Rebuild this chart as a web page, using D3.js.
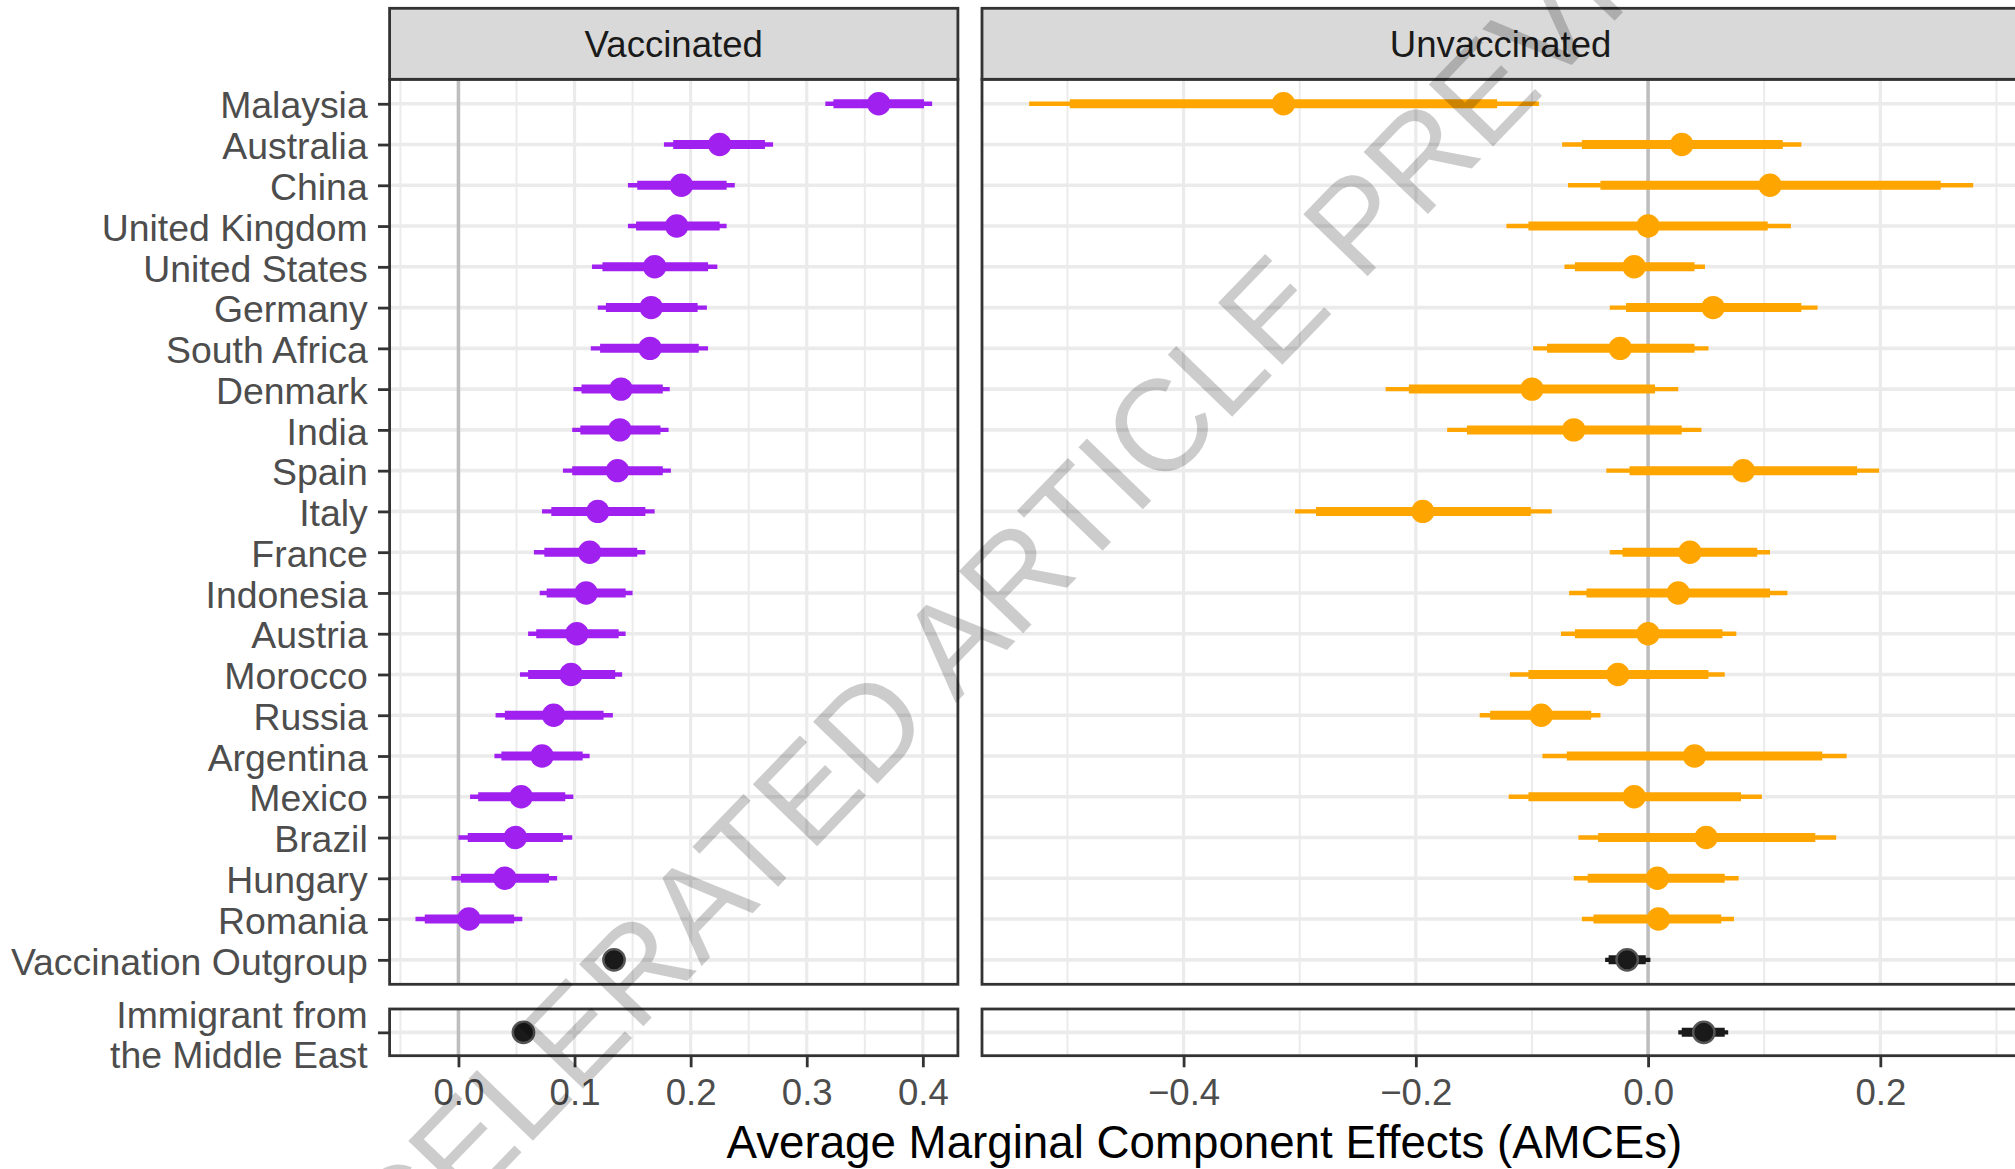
<!DOCTYPE html>
<html>
<head>
<meta charset="utf-8">
<script src="https://cdn.jsdelivr.net/npm/d3@7"></script>
<style>
  html, body { margin: 0; padding: 0; background: #ffffff; }
  svg { display: block; }
  text { font-family: "Liberation Sans", Arial, Helvetica, sans-serif; }
</style>
</head>
<body>
<script>
// ---- Data -------------------------------------------------------------
const countries = [
  "Malaysia", "Australia", "China", "United Kingdom", "United States",
  "Germany", "South Africa", "Denmark", "India", "Spain", "Italy", "France",
  "Indonesia", "Austria", "Morocco", "Russia", "Argentina", "Mexico",
  "Brazil", "Hungary", "Romania"
];
const outgroupTerm = "Vaccination Outgroup";
const immigrantTerm = "Immigrant from\nthe Middle East";
const panels = ["Vaccinated", "Unvaccinated"];

// Vaccinated respondents: estimate, 95% interval, 90% interval
const vaxEst  = [0.362, 0.225, 0.192, 0.188, 0.169, 0.166, 0.165, 0.140, 0.139, 0.137, 0.120, 0.113, 0.110, 0.102, 0.097, 0.082, 0.072, 0.054, 0.049, 0.040, 0.009];
const vaxLo95 = [0.316, 0.177, 0.146, 0.146, 0.115, 0.120, 0.114, 0.099, 0.098, 0.090, 0.072, 0.065, 0.070, 0.060, 0.053, 0.032, 0.031, 0.010, 0.000, -0.006, -0.037];
const vaxHi95 = [0.408, 0.271, 0.238, 0.231, 0.223, 0.214, 0.215, 0.182, 0.181, 0.183, 0.169, 0.161, 0.150, 0.144, 0.141, 0.133, 0.113, 0.099, 0.098, 0.085, 0.055];
const vaxLo90 = [0.323, 0.185, 0.154, 0.153, 0.124, 0.127, 0.122, 0.106, 0.105, 0.098, 0.080, 0.074, 0.076, 0.067, 0.060, 0.040, 0.037, 0.017, 0.008, 0.002, -0.029];
const vaxHi90 = [0.401, 0.264, 0.231, 0.225, 0.215, 0.206, 0.207, 0.176, 0.174, 0.176, 0.161, 0.154, 0.144, 0.138, 0.135, 0.125, 0.107, 0.092, 0.090, 0.078, 0.048];

// Unvaccinated respondents
const unvEst  = [-0.314, 0.029, 0.105, 0.000, -0.012, 0.056, -0.024, -0.100, -0.064, 0.082, -0.194, 0.036, 0.026, 0.000, -0.026, -0.092, 0.040, -0.012, 0.050, 0.008, 0.009];
const unvLo95 = [-0.533, -0.074, -0.069, -0.122, -0.072, -0.033, -0.099, -0.226, -0.173, -0.036, -0.304, -0.033, -0.068, -0.075, -0.119, -0.145, -0.091, -0.120, -0.060, -0.064, -0.057];
const unvHi95 = [-0.094, 0.132, 0.280, 0.123, 0.049, 0.146, 0.052, 0.026, 0.046, 0.199, -0.083, 0.105, 0.120, 0.076, 0.066, -0.041, 0.171, 0.098, 0.162, 0.078, 0.074];
const unvLo90 = [-0.498, -0.057, -0.041, -0.103, -0.063, -0.019, -0.087, -0.206, -0.156, -0.016, -0.286, -0.022, -0.053, -0.063, -0.103, -0.136, -0.070, -0.103, -0.043, -0.052, -0.047];
const unvHi90 = [-0.130, 0.116, 0.252, 0.103, 0.040, 0.132, 0.040, 0.006, 0.029, 0.180, -0.101, 0.094, 0.105, 0.064, 0.052, -0.049, 0.150, 0.080, 0.144, 0.066, 0.063];

// Baseline comparison terms: [Vaccinated, Unvaccinated]
const outgroupEst  = [0.134, -0.018];
const outgroupLo95 = [0.126, -0.037];
const outgroupHi95 = [0.142, 0.002];
const outgroupLo90 = [0.128, -0.034];
const outgroupHi90 = [0.140, -0.002];

const immigrantEst  = [0.056, 0.048];
const immigrantLo95 = [0.048, 0.026];
const immigrantHi95 = [0.064, 0.069];
const immigrantLo90 = [0.050, 0.029];
const immigrantHi90 = [0.062, 0.066];

// Axis breaks
const vaxTicks = [0, 0.1, 0.2, 0.3, 0.4];
const vaxTickLabels = ["0.0", "0.1", "0.2", "0.3", "0.4"];
const vaxMinor = [-0.05, 0.05, 0.15, 0.25, 0.35];
const unvTicks = [-0.4, -0.2, 0, 0.2];
const unvTickLabels = ["\u22120.4", "\u22120.2", "0.0", "0.2"];
const unvMinor = [-0.5, -0.3, -0.1, 0.1, 0.3];

const xTitle = "Average Marginal Component Effects (AMCEs)";
const watermark = "ACCELERATED ARTICLE PREVIEW";

// ---- Layout -----------------------------------------------------------
const W = 2015, H = 1169;
const FONT_AXIS = 36.6, FONT_YLAB = 37.4, FONT_TITLE = 45.7;
const stripTop = 8.3, stripBottom = 79.3;
const mainTop = 79.3, mainBottom = 984.3;
const lowTop = 1009, lowBottom = 1055.7;

const COL = {
  vax: "#A020F0", unv: "#FFA500", base: "#1a1a1a",
  grid: "#EBEBEB", border: "#333333", strip: "#D9D9D9",
  axisText: "#4D4D4D", zero: "#BEBEBE"
};

const svg = d3.select("body").append("svg")
  .attr("width", W).attr("height", H)
  .attr("viewBox", `0 0 ${W} ${H}`);

svg.append("rect").attr("width", W).attr("height", H).attr("fill", "#fff");

const yMain = d3.scalePoint()
  .domain([...countries, outgroupTerm])
  .range([mainTop, mainBottom])
  .padding(0.6);
const yLow = d3.scalePoint()
  .domain([immigrantTerm])
  .range([lowTop, lowBottom])
  .padding(0.6);

const panelSpecs = [
  {
    name: panels[0], color: COL.vax,
    x: d3.scaleLinear().domain([-0.0593, 0.4302]).range([389.6, 957.9]),
    ticks: vaxTicks, labels: vaxTickLabels, minor: vaxMinor,
    est: vaxEst, lo95: vaxLo95, hi95: vaxHi95, lo90: vaxLo90, hi90: vaxHi90, idx: 0
  },
  {
    name: panels[1], color: COL.unv,
    x: d3.scaleLinear().domain([-0.5736, 0.3196]).range([982, 2019.2]),
    ticks: unvTicks, labels: unvTickLabels, minor: unvMinor,
    est: unvEst, lo95: unvLo95, hi95: unvHi95, lo90: unvLo90, hi90: unvHi90, idx: 1
  }
];

const THIN = 4.4, THICK = 9, R = 11.7;

function drawPanel(g, spec, y, top, bottom, rows) {
  const x = spec.x;
  const [x0, x1] = x.range();

  g.append("rect").attr("x", x0).attr("y", top)
    .attr("width", x1 - x0).attr("height", bottom - top).attr("fill", "#fff");

  // minor vertical grid
  g.selectAll(null).data(spec.minor).join("line")
    .attr("x1", d => x(d)).attr("x2", d => x(d))
    .attr("y1", top).attr("y2", bottom)
    .attr("stroke", COL.grid).attr("stroke-width", 2);
  // major vertical grid
  g.selectAll(null).data(spec.ticks).join("line")
    .attr("x1", d => x(d)).attr("x2", d => x(d))
    .attr("y1", top).attr("y2", bottom)
    .attr("stroke", COL.grid).attr("stroke-width", 3.2);
  // horizontal grid, one per term
  g.selectAll(null).data(y.domain()).join("line")
    .attr("x1", x0).attr("x2", x1)
    .attr("y1", d => y(d)).attr("y2", d => y(d))
    .attr("stroke", COL.grid).attr("stroke-width", 3.6);
  // reference line at zero
  g.append("line")
    .attr("x1", x(0)).attr("x2", x(0)).attr("y1", top).attr("y2", bottom)
    .attr("stroke", COL.zero).attr("stroke-width", 3.5);

  // estimates with two interval widths
  const marks = g.append("g");
  marks.selectAll(null).data(rows).join("line")
    .attr("x1", d => x(d.lo95)).attr("x2", d => x(d.hi95))
    .attr("y1", d => y(d.term)).attr("y2", d => y(d.term))
    .attr("stroke", d => d.color).attr("stroke-width", THIN);
  marks.selectAll(null).data(rows).join("line")
    .attr("x1", d => x(d.lo90)).attr("x2", d => x(d.hi90))
    .attr("y1", d => y(d.term)).attr("y2", d => y(d.term))
    .attr("stroke", d => d.color).attr("stroke-width", THICK);
  marks.selectAll(null).data(rows).join("circle")
    .attr("cx", d => x(d.est)).attr("cy", d => y(d.term)).attr("r", d => d.base ? R - 1 : R)
    .attr("fill", d => d.color)
    .attr("stroke", d => d.base ? "#555" : "none")
    .attr("stroke-width", d => d.base ? 2.4 : 0);

  // panel border
  g.append("rect").attr("x", x0).attr("y", top)
    .attr("width", x1 - x0).attr("height", bottom - top)
    .attr("fill", "none").attr("stroke", COL.border).attr("stroke-width", 2.8);
}

panelSpecs.forEach(spec => {
  const g = svg.append("g");
  const mainRows = countries.map((c, i) => ({
    term: c, est: spec.est[i], lo95: spec.lo95[i], hi95: spec.hi95[i],
    lo90: spec.lo90[i], hi90: spec.hi90[i], color: spec.color
  }));
  mainRows.push({
    term: outgroupTerm, est: outgroupEst[spec.idx],
    lo95: outgroupLo95[spec.idx], hi95: outgroupHi95[spec.idx],
    lo90: outgroupLo90[spec.idx], hi90: outgroupHi90[spec.idx],
    color: COL.base, base: true
  });
  drawPanel(g, spec, yMain, mainTop, mainBottom, mainRows);

  const lowRows = [{
    term: immigrantTerm, est: immigrantEst[spec.idx],
    lo95: immigrantLo95[spec.idx], hi95: immigrantHi95[spec.idx],
    lo90: immigrantLo90[spec.idx], hi90: immigrantHi90[spec.idx],
    color: COL.base, base: true
  }];
  drawPanel(g, spec, yLow, lowTop, lowBottom, lowRows);

  // facet strip
  const [x0, x1] = spec.x.range();
  g.append("rect").attr("x", x0).attr("y", stripTop)
    .attr("width", x1 - x0).attr("height", stripBottom - stripTop)
    .attr("fill", COL.strip).attr("stroke", COL.border).attr("stroke-width", 2.8);
  g.append("text")
    .attr("x", (x0 + x1) / 2).attr("y", 57.3)
    .attr("text-anchor", "middle")
    .attr("font-size", FONT_AXIS).attr("fill", "#1A1A1A")
    .text(spec.name);

  // x axis under the lower panel
  const ax = g.append("g").attr("transform", `translate(0,${lowBottom})`)
    .call(d3.axisBottom(spec.x).tickValues(spec.ticks)
      .tickFormat((d, i) => spec.labels[i]).tickSize(11.6).tickPadding(12));
  ax.select(".domain").remove();
  ax.selectAll(".tick line").attr("stroke", COL.border).attr("stroke-width", 2.8);
  ax.selectAll(".tick text").attr("fill", COL.axisText)
    .attr("font-size", FONT_AXIS).attr("font-family", null);
});

// y axes on the left panel
const xLeft = panelSpecs[0].x.range()[0];
function styleYAxis(sel) {
  sel.select(".domain").remove();
  sel.selectAll(".tick line").attr("stroke", COL.border).attr("stroke-width", 2.8);
  sel.selectAll(".tick text").attr("fill", COL.axisText)
    .attr("font-size", FONT_YLAB).attr("font-family", null).attr("dy", "0.38em");
}
svg.append("g").attr("transform", `translate(${xLeft},0)`)
  .call(d3.axisLeft(yMain).tickSize(11.6).tickPadding(10.3))
  .call(styleYAxis);

const lowAxis = svg.append("g").attr("transform", `translate(${xLeft},0)`)
  .call(d3.axisLeft(yLow).tickSize(11.6).tickPadding(10.3))
  .call(styleYAxis);
lowAxis.selectAll(".tick text").each(function (d) {
  const t = d3.select(this);
  const xPos = t.attr("x");
  const lines = d.split("\n");
  t.text(null).attr("dy", null);
  const offsets = [-5, 35.5];
  lines.forEach((ln, i) => {
    t.append("tspan").attr("x", xPos).attr("y", offsets[i]).text(ln);
  });
});

// x-axis title centred under both panels
const xr0 = panelSpecs[0].x.range()[0], xr1 = panelSpecs[1].x.range()[1];
svg.append("text")
  .attr("x", (xr0 + xr1) / 2).attr("y", 1158)
  .attr("text-anchor", "middle")
  .attr("font-size", FONT_TITLE).attr("fill", "#000")
  .text(xTitle);

// diagonal watermark across the figure
svg.append("text")
  .attr("transform", "translate(992,598) rotate(-46)")
  .attr("text-anchor", "middle")
  .attr("dy", "0.36em")
  .attr("font-size", 130)
  .attr("fill", "#000").attr("fill-opacity", 0.2)
  .text(watermark);
</script>
</body>
</html>
